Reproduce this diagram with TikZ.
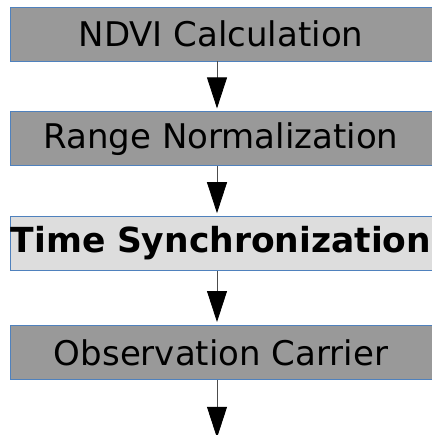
\documentclass[tikz,border=0pt]{standalone}
\usepackage{fontspec}
\setmainfont{DejaVu Sans}
\usepackage{xcolor}
\usetikzlibrary{arrows.meta, positioning}
\definecolor{stepGray}{RGB}{153, 153, 153}
\definecolor{stepLight}{RGB}{221, 221, 221}
\definecolor{stepBorder}{RGB}{79, 129, 189}

\begin{document}
\begin{tikzpicture}[
        node distance=50pt,
        stepbox/.style={rectangle, draw=stepBorder, line width=0.8pt, fill=stepGray, minimum width=422pt, minimum height=54pt, inner sep=0pt, align=center, font=\fontsize{34}{41}\selectfont},
        flow/.style={-{Triangle[width=20pt, length=31pt, color=black]}, draw=gray!60!black, line width=0.8pt, shorten >=3pt}
    ]
        \useasboundingbox (0,0) rectangle (431pt,-435pt);

        % processing chain
        \node[stepbox] (ndvi) at (221pt,-34pt) {NDVI Calculation};
        \node[stepbox, below=of ndvi] (range) {Range Normalization};
        \node[stepbox, fill=stepLight, text width=422pt, font=\fontsize{34.5}{41}\selectfont\bfseries, below=of range] (sync) {Time Synchronization};
        \node[stepbox, below=54pt of sync] (carrier) {Observation Carrier};
        \coordinate[below=58pt of carrier.south, xshift=-4pt] (out);

        \draw[flow] ([xshift=-4pt]ndvi.south) -- ([xshift=-4pt]range.north);
        \draw[flow] ([xshift=-4pt]range.south) -- ([xshift=-4pt]sync.north);
        \draw[flow] ([xshift=-4pt]sync.south) -- ([xshift=-4pt]carrier.north);
        \draw[flow, shorten >=0pt] ([xshift=-4pt]carrier.south) -- (out);
    \end{tikzpicture}
\end{document}
